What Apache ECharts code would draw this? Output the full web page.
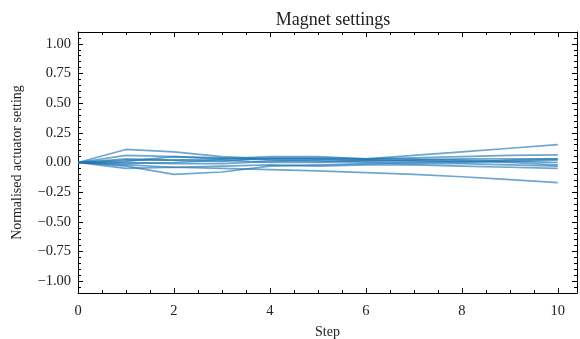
<!DOCTYPE html>
<html>
<head>
<meta charset="utf-8">
<script src="https://cdn.jsdelivr.net/npm/echarts@6/dist/echarts.min.js"></script>
<style>html,body{margin:0;padding:0;background:#fff;}#c{width:580px;height:339px;}</style>
</head>
<body>
<div id="c"></div>
<script>
const steps = [0,1,2,3,4,5,6,7,8,9,10];
const s1  = [0, 0.11, 0.09, 0.05, 0.03, 0.03, 0.02, 0.02, 0.03, 0.03, 0.03];
const s2  = [0, -0.03, -0.10, -0.08, -0.03, -0.02, -0.01, 0.00, 0.01, 0.01, 0.02];
const s3  = [0, 0.02, 0.02, 0.03, 0.03, 0.03, 0.03, 0.06, 0.09, 0.12, 0.15];
const s4  = [0, -0.05, -0.04, -0.05, -0.06, -0.07, -0.085, -0.10, -0.12, -0.145, -0.17];
const s5  = [0, 0.06, 0.05, 0.03, 0.05, 0.05, 0.03, 0.04, 0.05, 0.06, 0.065];
const s6  = [0, 0.03, 0.02, 0.01, 0.04, 0.04, 0.03, 0.03, 0.02, 0.01, 0.00];
const s7  = [0, 0.00, -0.01, -0.01, 0.01, 0.02, 0.01, 0.02, 0.01, 0.00, -0.02];
const s8  = [0, -0.02, -0.04, -0.03, -0.02, -0.03, -0.02, -0.02, -0.03, -0.04, -0.05];
const s9  = [0, 0.01, 0.05, 0.04, 0.02, 0.01, 0.00, -0.01, -0.01, -0.02, -0.03];
const s10 = [0, -0.01, 0.00, 0.02, 0.00, 0.00, 0.02, 0.01, 0.00, 0.02, 0.03];
const allSeries = [s1,s2,s3,s4,s5,s6,s7,s8,s9,s10];

const xTicks = [0,2,4,6,8,10];
const yTicks = [-1.00,-0.75,-0.50,-0.25,0.00,0.25,0.50,0.75,1.00];

const title = 'Magnet settings';
const xName = 'Step';
const yName = 'Normalised actuator setting';

const X_MIN = 0, X_MAX = 10.4, Y_MIN = -1.1, Y_MAX = 1.1;

function minor(min, max, step, majors) {
  const out = [];
  const n0 = Math.ceil(min / step - 1e-9), n1 = Math.floor(max / step + 1e-9);
  for (let i = n0; i <= n1; i++) {
    const v = +(i * step).toFixed(4);
    if (!majors.some(m => Math.abs(m - v) < 1e-6)) out.push(v);
  }
  return out;
}
const xMinor = minor(X_MIN, X_MAX, 0.5, xTicks);
const yMinor = minor(Y_MIN, Y_MAX, 0.05, yTicks);

const FONT = 'Liberation Serif';
const TXT = '#222';
const fmtY = v => v.toFixed(2).replace('-', '\u2212');

function xAx(pos, vals, len, showLine, showLabel) {
  return {
    type: 'value', position: pos, min: X_MIN, max: X_MAX, offset: 0,
    axisLine: {show: showLine, onZero: false, lineStyle: {color: '#000', width: 1}},
    axisTick: {show: true, inside: true, length: len, customValues: vals, lineStyle: {color: '#000', width: 1}},
    axisLabel: {show: showLabel, customValues: vals, margin: 11, fontFamily: FONT, fontSize: 14.5, color: TXT,
      formatter: v => String(Math.round(v))},
    splitLine: {show: false},
    name: showLabel ? xName : '', nameLocation: 'middle', nameGap: 32,
    nameTextStyle: {fontFamily: FONT, fontSize: 14, color: TXT}
  };
}
function yAx(pos, vals, len, showLine, showLabel) {
  return {
    type: 'value', position: pos, min: Y_MIN, max: Y_MAX, offset: 0,
    axisLine: {show: showLine, onZero: false, lineStyle: {color: '#000', width: 1}},
    axisTick: {show: true, inside: true, length: len, customValues: vals, lineStyle: {color: '#000', width: 1}},
    axisLabel: {show: showLabel, customValues: vals, margin: 7, fontFamily: FONT, fontSize: 14.5, color: TXT,
      formatter: fmtY},
    splitLine: {show: false},
    name: showLabel ? yName : '', nameLocation: 'middle', nameGap: 54,
    nameTextStyle: {fontFamily: FONT, fontSize: 14, color: TXT}
  };
}

const chart = echarts.init(document.getElementById('c'), null, {renderer: 'canvas'});
chart.setOption({
  animation: false,
  backgroundColor: '#fff',
  title: {text: title, left: 328, top: 6, textAlign: 'center',
    textStyle: {fontFamily: FONT, fontSize: 18, fontWeight: 'normal', color: TXT}},
  grid: {left: 78, right: 3, top: 32, bottom: 46, containLabel: false, outerBoundsMode: 'none'},
  xAxis: [
    xAx('bottom', xTicks, 5, true, true),
    xAx('bottom', xMinor, 3, false, false),
    xAx('top', xTicks, 5, true, false),
    xAx('top', xMinor, 3, false, false)
  ],
  yAxis: [
    yAx('left', yTicks, 5, true, true),
    yAx('left', yMinor, 3, false, false),
    yAx('right', yTicks, 5, true, false),
    yAx('right', yMinor, 3, false, false)
  ],
  series: allSeries.map(s => ({
    type: 'line', xAxisIndex: 0, yAxisIndex: 0,
    data: steps.map((x, i) => [x, s[i]]),
    showSymbol: false, symbol: 'none',
    lineStyle: {color: 'rgba(31,119,180,0.65)', width: 1.7},
    emphasis: {disabled: true}
  }))
});
</script>
</body>
</html>
